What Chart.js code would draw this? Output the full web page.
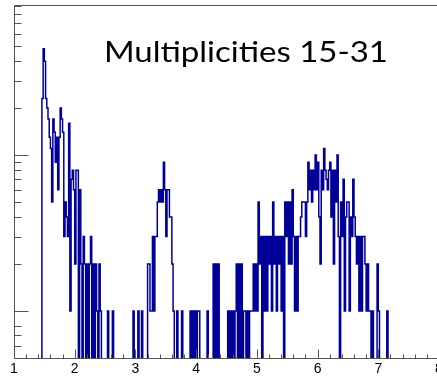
<!DOCTYPE html>
<html>
<head>
<meta charset="utf-8">
<script src="https://cdn.jsdelivr.net/npm/chart.js@4/dist/chart.umd.min.js"></script>
<style>
  html, body { margin: 0; padding: 0; background: #fff; overflow: hidden; }
  #wrap { width: 437px; height: 376px; overflow: hidden; }
  canvas { display: block; }
</style>
</head>
<body>
<div id="wrap"><canvas id="c" width="452" height="376"></canvas></div>
<script>
// Histogram binning: 350 bins of width 0.02 from 1 to 8
const binStart = 1;
const binWidth = 0.02;

// Entries per bin (rows of ten bins)
const counts = [
  0,0,0,0,0,0,0,0,0,0,
  0,0,0,0,0,0,0,0,0,0,
  0,0,0,23,48,40,23,20,17,13,
  11,5,17,14,9,13,6,13,20,17,
  14,3,5,4,3,16,1,7,8,6,
  2,8,8,0,6,2,0,3,2,0,
  2,0,2,3,0,2,0,2,1,0,
  2,1,0,0,0,0,0,1,0,0,
  0,1,0,0,0,0,0,0,0,0,
  0,0,0,0,0,0,0,0,1,0,
  0,0,1,0,0,1,0,0,0,0,
  2,2,1,1,3,1,3,3,5,6,
  5,6,5,9,6,3,6,6,4,4,
  2,1,0,0,1,0,0,0,1,0,
  0,0,0,0,0,1,0,1,0,1,
  0,1,1,0,0,0,0,0,0,1,
  0,0,0,0,2,0,2,0,2,0,
  0,0,0,0,0,0,1,0,1,0,
  1,0,1,2,0,2,0,2,0,1,
  1,0,1,0,1,1,1,2,1,2,
  1,5,2,3,0,3,1,3,1,3,
  2,3,1,5,2,3,1,3,2,3,
  1,3,0,5,3,5,2,5,2,6,
  3,1,3,1,3,3,4,5,5,5,
  3,5,9,6,8,5,8,6,10,6,
  9,4,2,8,6,11,8,7,6,8,
  9,4,8,2,8,5,10,3,0,5,
  3,7,1,4,5,5,1,4,3,7,
  4,3,2,3,1,3,1,3,3,2,
  1,2,1,1,0,1,0,0,0,2,
  1,0,0,0,0,0,0,1,0,0,
  0,0,0,0,0,0,0,0,0,0,
  0,0,0,0,0,0,0,0,0,0,
  0,0,0,0,0,0,0,0,0,0,
  0,0,0,0,0,0,0,0,0,0
];

// Axis ranges and ticks
const xMin = 1, xMax = 8;
const yMin = 0.5, yMax = 91.6;
const xTickValues = [1, 2, 3, 4, 5, 6, 7, 8];
const xTickLabels = ['1', '2', '3', '4', '5', '6', '7', '8'];
const xMinorStep = 0.2;
const yMajorTicks = [1, 10];
const yMinorTicks = [0.6, 0.7, 0.8, 2, 3, 4, 5, 6, 7, 8, 9, 20, 30, 40, 50, 60, 70, 80, 90];

const titleText = 'Multiplicities 15-31';
const TITLE_WIDTH = 284;

const LINE_COLOR = '#000099';
const AXIS_COLOR = '#555555';
// empty bins are sent below the frame so only their edges show
const FLOOR = 0.3;

// Step outline points: left edge of every bin plus the closing right edge
const points = counts.map((c, i) => ({ x: binStart + i * binWidth, y: c > 0 ? c : FLOOR }));
points.push({ x: binStart + counts.length * binWidth, y: FLOOR });

const frameAndLabels = {
  id: 'frameAndLabels',
  afterDatasetsDraw(chart) {
    const { ctx, chartArea: a, scales: { x, y } } = chart;
    ctx.save();
    ctx.strokeStyle = AXIS_COLOR;
    ctx.lineWidth = 1;
    ctx.beginPath();
    // frame: bottom, left, top
    const bottom = Math.round(a.bottom) + 0.5;
    const left = Math.round(a.left) + 0.5;
    const top = Math.round(a.top) + 0.5;
    ctx.moveTo(left, bottom); ctx.lineTo(a.right + 20, bottom);
    ctx.moveTo(left, bottom); ctx.lineTo(left, top);
    ctx.moveTo(left, top); ctx.lineTo(a.right + 20, top);
    // x ticks (pointing into the plot)
    for (let v = xMin; v <= xMax + 1e-9; v += xMinorStep) {
      const px = Math.round(x.getPixelForValue(v)) + 0.5;
      const isMajor = Math.abs(v - Math.round(v)) < 1e-6;
      ctx.moveTo(px, bottom);
      ctx.lineTo(px, bottom - (isMajor ? 9 : 4));
    }
    // y ticks
    yMajorTicks.forEach(v => {
      const py = Math.round(y.getPixelForValue(v)) + 0.5;
      ctx.moveTo(left, py); ctx.lineTo(left + 14, py);
    });
    yMinorTicks.forEach(v => {
      const py = Math.round(y.getPixelForValue(v)) + 0.5;
      ctx.moveTo(left, py); ctx.lineTo(left + 7, py);
    });
    ctx.stroke();

    // x tick labels
    ctx.fillStyle = '#000';
    ctx.font = '14px "Liberation Sans", Arial, sans-serif';
    ctx.textAlign = 'center';
    ctx.textBaseline = 'alphabetic';
    xTickValues.forEach((v, i) => {
      ctx.fillText(xTickLabels[i], x.getPixelForValue(v), a.bottom + 15);
    });

    // title inside the frame, stretched to its set width
    ctx.font = '28px Lato, "Open Sans", sans-serif';
    ctx.textAlign = 'left';
    const w = ctx.measureText(titleText).width;
    ctx.translate(104, 62);
    ctx.scale(TITLE_WIDTH / w, 1);
    ctx.fillText(titleText, 0, 0);
    ctx.restore();
  }
};

new Chart(document.getElementById('c'), {
  type: 'line',
  data: {
    datasets: [{
      data: points,
      borderColor: LINE_COLOR,
      borderWidth: 1.5,
      stepped: 'before',
      pointRadius: 0,
      fill: false,
      tension: 0,
      clip: 0
    }]
  },
  options: {
    responsive: false,
    animation: false,
    events: [],
    layout: { padding: { left: 14, right: 13, top: 5, bottom: 18 } },
    plugins: { legend: { display: false }, tooltip: { enabled: false }, title: { display: false } },
    scales: {
      x: { type: 'linear', min: xMin, max: xMax, display: false },
      y: { type: 'logarithmic', min: yMin, max: yMax, display: false }
    }
  },
  plugins: [frameAndLabels]
});
</script>
</body>
</html>
